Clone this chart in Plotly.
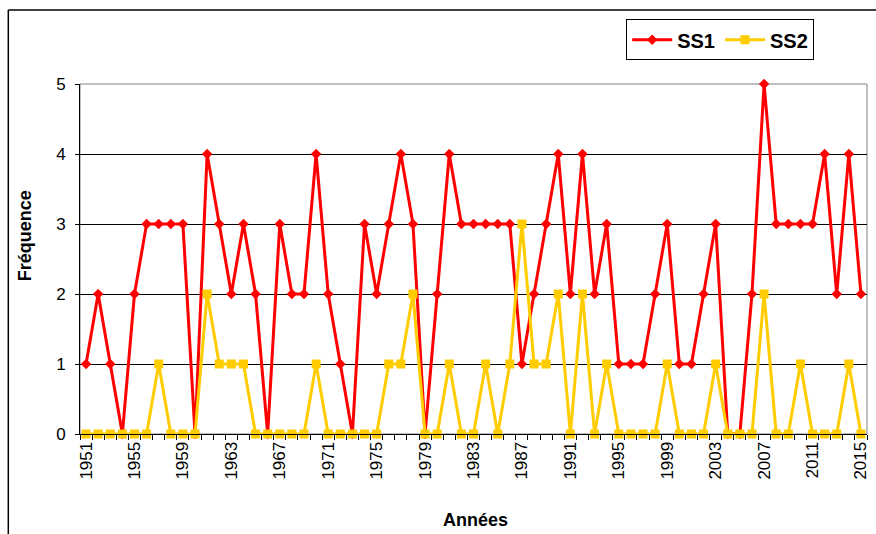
import plotly.graph_objects as go

years = list(range(1951, 2016))
ss1 = [1, 2, 1, 0, 2, 3, 3, 3, 3, 0,
       4, 3, 2, 3, 2, 0, 3, 2, 2, 4,
       2, 1, 0, 3, 2, 3, 4, 3, 0, 2,
       4, 3, 3, 3, 3, 3, 1, 2, 3, 4,
       2, 4, 2, 3, 1, 1, 1, 2, 3, 1,
       1, 2, 3, 0, 0, 2, 5, 3, 3, 3,
       3, 4, 2, 4, 2]
ss2 = [0, 0, 0, 0, 0, 0, 1, 0, 0, 0,
       2, 1, 1, 1, 0, 0, 0, 0, 0, 1,
       0, 0, 0, 0, 0, 1, 1, 2, 0, 0,
       1, 0, 0, 1, 0, 1, 3, 1, 1, 2,
       0, 2, 0, 1, 0, 0, 0, 0, 1, 0,
       0, 0, 1, 0, 0, 0, 2, 0, 0, 1,
       0, 0, 0, 1, 0]
tick_years = list(range(1951, 2016, 4))
y_ticks = [0, 1, 2, 3, 4, 5]

FONT = "Liberation Sans, Arial, sans-serif"

fig = go.Figure()
fig.add_trace(go.Scatter(
    x=years, y=ss1, name="SS1", mode="lines+markers",
    line=dict(color="#FF0000", width=3),
    marker=dict(symbol="diamond", size=8, color="#FF0000"),
    cliponaxis=False,
))
fig.add_trace(go.Scatter(
    x=years, y=ss2, name="SS2", mode="lines+markers",
    line=dict(color="#FFCC00", width=3),
    marker=dict(symbol="square", size=9, color="#FFCC00"),
    cliponaxis=False,
))

fig.update_layout(
    width=876, height=534,
    margin=dict(l=80, r=6, t=84, b=100),
    paper_bgcolor="white", plot_bgcolor="white",
    font=dict(family=FONT, color="black", size=17),
    showlegend=True,
    legend=dict(
        orientation="h", x=0.694, y=1.185, xanchor="left", yanchor="top",
        bordercolor="black", borderwidth=1, bgcolor="white",
        font=dict(family=FONT, size=20, color="black", weight="bold"),
        itemwidth=40, tracegroupgap=0,
    ),
    xaxis=dict(
        range=[1950.5, 2015.5], tickmode="array", tickvals=tick_years,
        ticktext=[str(y) for y in tick_years], tickangle=-90,
        ticks="", showgrid=False, zeroline=False,
        showline=True, linecolor="black", linewidth=1,
        tickfont=dict(size=17),
        minor=dict(tick0=1950.5, dtick=1, ticks="outside", ticklen=5,
                   tickcolor="black", tickwidth=1, showgrid=False),
    ),
    yaxis=dict(
        range=[0, 5], tickmode="array", tickvals=y_ticks,
        ticks="outside", ticklen=4, tickcolor="black",
        showgrid=True, gridcolor="black", gridwidth=1, zeroline=False,
        showline=True, linecolor="black", linewidth=1,
        tickfont=dict(size=17), ticklabelstandoff=6,
    ),
    shapes=[
        dict(type="rect", xref="paper", yref="paper", x0=0, y0=0, x1=1, y1=1,
             line=dict(color="#808080", width=1), layer="between"),
        dict(type="line", xref="paper", yref="paper", x0=-0.0911, y0=1.2114,
             x1=1.05, y1=1.2114, line=dict(color="black", width=1.5)),
        dict(type="line", xref="paper", yref="paper", x0=-0.0911, y0=1.2114,
             x1=-0.0911, y1=-0.35, line=dict(color="black", width=1.5)),
    ],
    annotations=[
        dict(text="<b>Fréquence</b>", xref="paper", yref="paper",
             x=(25 - 80) / 790, y=(434 - 236) / 350, textangle=-90,
             showarrow=False, font=dict(size=18), xanchor="center", yanchor="middle"),
        dict(text="<b>Années</b>", xref="paper", yref="paper",
             x=(477 - 80) / 790, y=(434 - 520) / 350,
             showarrow=False, font=dict(size=18), xanchor="center", yanchor="middle"),
    ],
)

fig.write_html("out.html", config={"displayModeBar": False},
               post_script="document.body.style.margin='0';document.body.style.overflow='hidden';")
